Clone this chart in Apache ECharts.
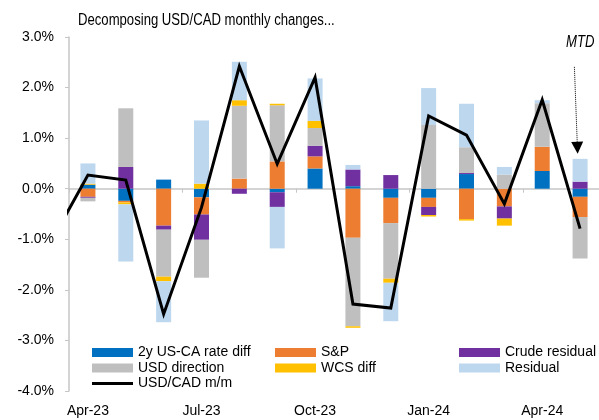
<!DOCTYPE html>
<html>
<head>
<meta charset="utf-8">
<script src="https://cdn.jsdelivr.net/npm/echarts@6/dist/echarts.min.js"></script>
<style>
  html, body { margin: 0; padding: 0; background: #fff; }
  #chart { width: 599px; height: 420px; }
</style>
</head>
<body>
<div id="chart"></div>
<script>
// months on the category axis
const months = ["Apr-23", "May-23", "Jun-23", "Jul-23", "Aug-23", "Sep-23", "Oct-23",
  "Nov-23", "Dec-23", "Jan-24", "Feb-24", "Mar-24", "Apr-24", "May-24"];

// contributions, % m/m
const rateDiff = [0.08, -0.24, 0.18, -0.17, 0.00, -0.07, 0.40, 0.05, -0.18, -0.18, 0.29, 0.00, 0.35, -0.16];
const spx = [-0.16, -0.03, -0.73, -0.34, 0.20, 0.54, 0.24, -0.97, -0.50, -0.18, -0.60, -0.35, 0.48, -0.40];
const crudeResid = [-0.02, 0.43, -0.08, -0.50, -0.10, -0.29, 0.21, 0.33, 0.27, -0.16, 0.02, -0.24, 0.00, 0.14];
const usdDir = [-0.07, 1.16, -0.93, -0.75, 1.44, 1.11, 0.35, -1.75, -1.10, 1.26, 0.51, 0.28, 0.86, -0.82];
const wcsDiff = [0.02, -0.04, -0.09, 0.10, 0.11, 0.03, 0.14, -0.03, -0.08, -0.03, -0.03, -0.14, 0.00, 0.00];
const residual = [0.40, -1.13, -0.81, 1.25, 0.76, -0.82, 0.84, 0.09, -0.76, 0.73, 0.86, 0.15, 0.06, 0.45];

// USD/CAD m/m, first value is Mar-23 (just off the left edge)
const usdcad = [-1.08, 0.27, 0.17, -2.48, -0.37, 2.42, 0.49, 2.20, -2.28, -2.36, 1.44, 1.06, -0.30, 1.76, -0.79];

const yTicks = [-4, -3, -2, -1, 0, 1, 2, 3];

const FONT = "'Liberation Sans', Arial, sans-serif";
const FS = 14;
const AXIS_GREY = "#c6c6c6";

// line sits on a value axis so it can start half a month before Apr-23
let linePts = usdcad.map((v, i) => [i - 0.5, v]);

function barSeries(name, data, color) {
  return {
    name: name,
    type: "bar",
    stack: "total",
    data: data,
    barWidth: 15,
    xAxisIndex: 0,
    itemStyle: { color: color },
    emphasis: { disabled: true }
  };
}

function legendCol(left, top, names, h) {
  return {
    orient: "vertical", left: left, top: top, itemWidth: 41, itemHeight: h, itemGap: 0.5,
    icon: "rect",
    textStyle: { fontFamily: FONT, fontSize: FS, lineHeight: 15, color: "#000" },
    data: names
  };
}

let chart = echarts.init(document.getElementById("chart"));
chart.setOption({
  animation: false,
  backgroundColor: "#fff",
  textStyle: { fontFamily: FONT },
  grid: { left: 69, right: -10, top: 37, bottom: 29, containLabel: false },
  legend: [
    legendCol(87, 340, ["2y US-CA rate diff", "USD direction"], 9),
    legendCol(87, 371, ["USD/CAD m/m"], 3),
    legendCol(270, 340, ["S&P", "WCS diff"], 9),
    legendCol(454, 340, ["Crude residual", "Residual"], 9)
  ],
  xAxis: [
    {
      type: "category",
      data: months,
      position: "bottom",
      axisLine: { show: false, onZero: false },
      axisTick: { show: false },
      axisLabel: { interval: 2, margin: 13, fontSize: FS, color: "#000", fontFamily: FONT },
      splitLine: { show: false }
    },
    {
      type: "value",
      min: 0,
      max: months.length,
      interval: 3,
      position: "bottom",
      axisLine: { show: true, onZero: true, lineStyle: { color: AXIS_GREY, width: 1.5 } },
      axisTick: { show: true, length: 4, lineStyle: { color: AXIS_GREY } },
      axisLabel: { show: false },
      splitLine: { show: false }
    }
  ],
  yAxis: {
    type: "value",
    min: yTicks[0],
    max: yTicks[yTicks.length - 1],
    interval: 1,
    axisLine: { show: true, onZero: false, lineStyle: { color: AXIS_GREY, width: 1.5 } },
    axisTick: { show: true, length: 4, lineStyle: { color: AXIS_GREY } },
    axisLabel: {
      margin: 15, fontSize: FS, color: "#000", fontFamily: FONT,
      formatter: v => v.toFixed(1) + "%"
    },
    splitLine: { show: false }
  },
  graphic: [
    {
      // narrow-looking title: 16px squeezed horizontally
      type: "text", x: 78, y: 13, scaleX: 0.82,
      style: { text: "Decomposing USD/CAD monthly changes...", font: "16px " + FONT, fill: "#000" }
    },
    {
      type: "text", x: 566, y: 35, scaleX: 0.82,
      style: { text: "MTD", font: "italic 16px " + FONT, fill: "#000" }
    }
  ],
  series: [
    barSeries("2y US-CA rate diff", rateDiff, "#0070C0"),
    barSeries("S&P", spx, "#ED7D31"),
    barSeries("Crude residual", crudeResid, "#7030A0"),
    barSeries("USD direction", usdDir, "#BFBFBF"),
    barSeries("WCS diff", wcsDiff, "#FFC000"),
    barSeries("Residual", residual, "#BDD7EE"),
    {
      name: "USD/CAD m/m",
      type: "line",
      xAxisIndex: 1,
      data: linePts,
      symbol: "none",
      clip: true,
      lineStyle: { color: "#000", width: 3, join: "miter" },
      itemStyle: { color: "#000" },
      emphasis: { disabled: true },
      z: 5,
      markLine: {
        silent: true,
        symbol: ["none", "triangle"],
        symbolSize: 12,
        label: { show: false },
        lineStyle: { type: "dotted", color: "#000", width: 1 },
        data: [[{ coord: [13.35, 2.41] }, { coord: [13.43, 0.81] }]]
      }
    }
  ]
});
</script>
</body>
</html>
